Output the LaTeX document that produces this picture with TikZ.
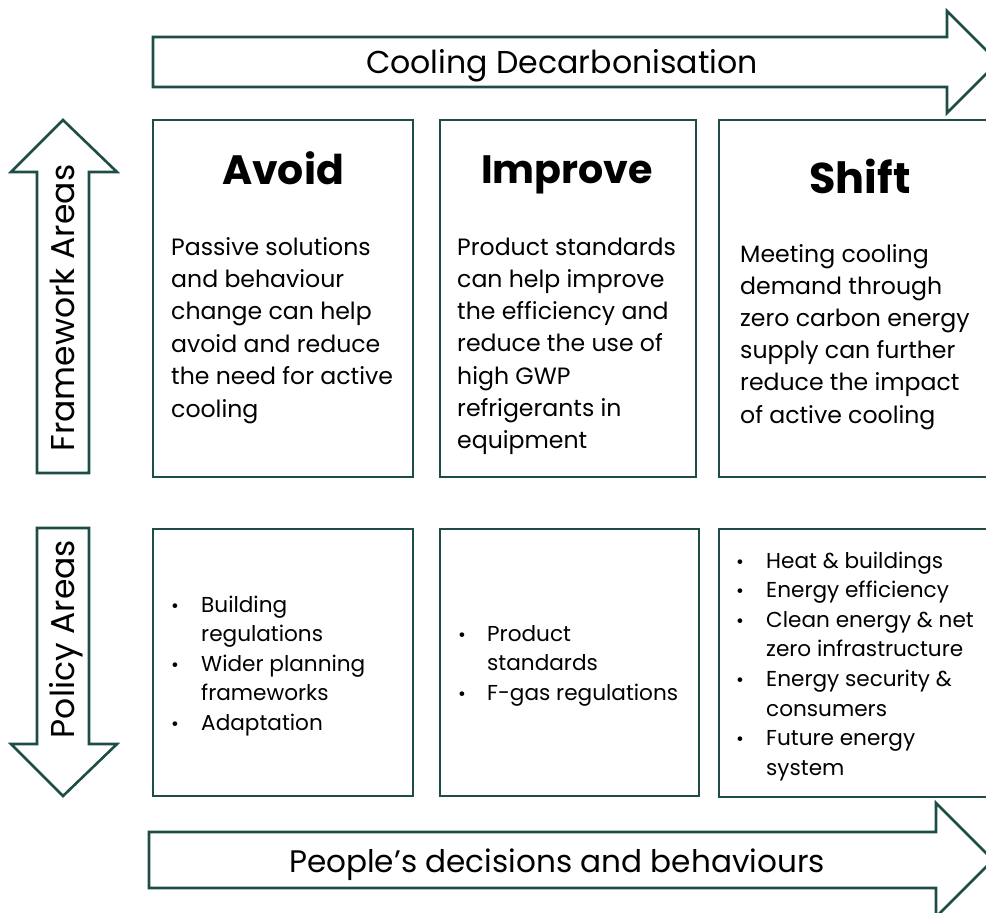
\documentclass[tikz,border=0pt]{standalone}
\usepackage{fontspec}
\setmainfont{Poppins}
\definecolor{teal}{HTML}{1E4D48}
\tikzset{
  frame/.style={draw=teal, line width=2.6pt, fill=white},
  body/.style={anchor=base west, inner sep=0pt, font=\fontsize{23.6}{28}\selectfont},
  pol/.style={anchor=base west, inner sep=0pt, font=\fontsize{21.6}{26}\selectfont},
  head/.style={anchor=base, inner sep=0pt, font=\fontsize{40}{46}\selectfont\bfseries},
  big/.style={anchor=base, inner sep=0pt, font=\fontsize{31.6}{36}\selectfont},
  side/.style={anchor=base, inner sep=0pt, rotate=90, font=\fontsize{33}{38}\selectfont},
  bul/.style={anchor=base, inner sep=0pt, font=\fontsize{19}{24}\selectfont},
}
\begin{document}
\begin{tikzpicture}[x=1pt,y=-1pt]
\useasboundingbox (0,0) rectangle (986,913);
\clip (0,0) rectangle (986,913);
% arrows
\draw[frame] (153,37) -- (947,37) -- (947,11) -- (998,62) -- (947,113) -- (947,87) -- (153,87) -- cycle;
\draw[frame] (149,832) -- (936,832) -- (936,803) -- (993,860) -- (936,917) -- (936,888) -- (149,888) -- cycle;
\draw[frame] (37,473) -- (37,172) -- (11,172) -- (63,120) -- (117,172) -- (89,172) -- (89,473) -- cycle;
\draw[frame] (37,528) -- (89,528) -- (89,744) -- (117,744) -- (63,796) -- (11,744) -- (37,744) -- cycle;
\node[big] (cd) at (562,73) {Cooling Decarbonisation};
\node[big, font=\fontsize{31.1}{36}\selectfont] (pd) at (557,872) {People’s decisions and behaviours};
\node[side] (fa) at (74,308) {Framework Areas};
\node[side] (pa) at (74,639) {Policy Areas};
% boxes
\draw[frame] (153,120) rectangle (413,477);
\draw[frame] (440,120) rectangle (696,477);
\draw[frame] (719,120) rectangle (1000,477);
\draw[frame] (153,529) rectangle (413,796);
\draw[frame] (440,529) rectangle (699,796);
\draw[frame] (719,529) rectangle (1000,797);
\node[head, font=\fontsize{41}{46}\selectfont\bfseries] (h1) at (283,184) {Avoid};
\node[head, font=\fontsize{39.6}{46}\selectfont\bfseries] (h2) at (567,183) {Improve};
\node[head, font=\fontsize{43}{48}\selectfont\bfseries] (h3) at (860,193) {Shift};
\foreach \t [count=\i] in {Passive solutions, and behaviour, change can help, avoid and reduce, the need for active, cooling}
  \node[body] (a\i) at (171,{255+32.4*(\i-1)}) {\t};
\foreach \t [count=\i] in {Product standards, can help improve, the efficiency and, reduce the use of, high GWP, refrigerants in, equipment}
  \node[body] (b\i) at (457,{255+32.3*(\i-1)}) {\t};
\foreach \t [count=\i] in {Meeting cooling, demand through, zero carbon energy, supply can further, reduce the impact, of active cooling}
  \node[body] (c\i) at (740,{262+32.2*(\i-1)}) {\t};
% policy lists
\foreach \t [count=\i] in {Building, regulations, Wider planning, frameworks, Adaptation}
  \node[pol] (p\i) at (201,{612+29.5*(\i-1)}) {\t};
\foreach \y [count=\i] in {612,671,730} \node[bul] (pb\i) at (175,\y) {•};
\foreach \t [count=\i] in {Product, standards, F-gas regulations}
  \node[pol] (q\i) at (487,{641+29.5*(\i-1)}) {\t};
\foreach \y [count=\i] in {641,700} \node[bul] (qb\i) at (462,\y) {•};
\foreach \t [count=\i] in {Heat \& buildings, Energy efficiency, Clean energy \& net, zero infrastructure, Energy security \&, consumers, Future energy, system}
  \node[pol] (r\i) at (766,{568+29.6*(\i-1)}) {\t};
\foreach \y [count=\i] in {568,597.6,627.2,686.4,745.6} \node[bul] (rb\i) at (740,\y) {•};
\end{tikzpicture}
\end{document}
